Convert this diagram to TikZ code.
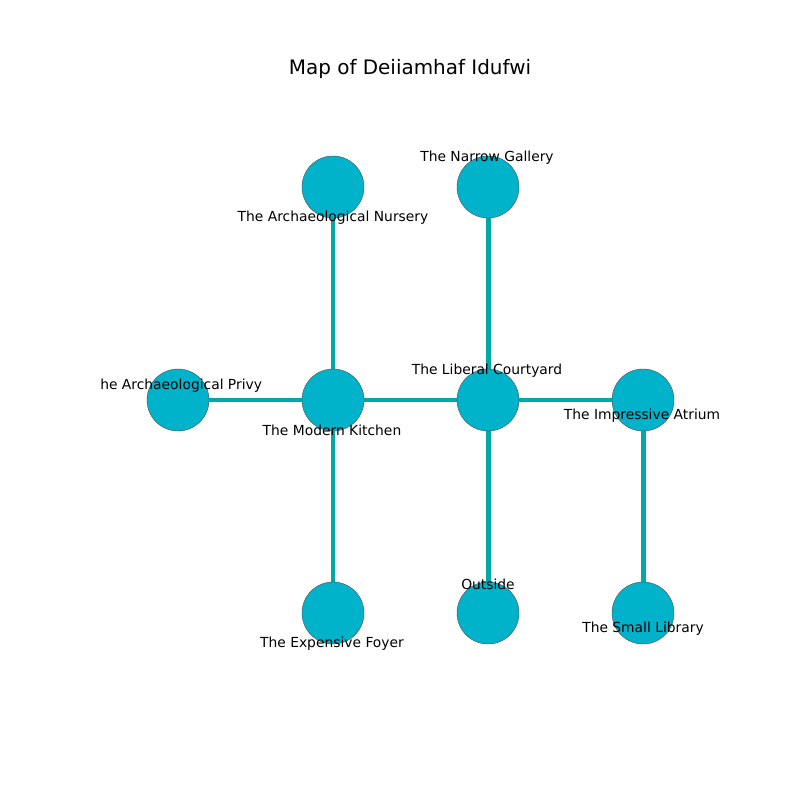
\documentclass[tikz,border=0pt]{standalone}
\usepackage{fontspec}
\setmainfont{DejaVu Sans}
\definecolor{nodefill}{RGB}{0,178,202}
\definecolor{edgecol}{RGB}{0,168,168}
\definecolor{rimcol}{RGB}{80,80,80}
\begin{document}
\begin{tikzpicture}[x=0.01in,y=-0.01in,
  room/.style={circle,fill=nodefill,draw=rimcol,line width=0.3pt,minimum size=0.62in,inner sep=0pt},
  link/.style={edgecol,line width=3.6pt},
  lbl/.style={font=\fontsize{10}{12}\selectfont,inner sep=0pt,text=black},
  ttl/.style={font=\fontsize{14.4}{16}\selectfont,inner sep=0pt}]
\useasboundingbox[fill=white] (0,0) rectangle (800,800);
\coordinate (cnur) at (333,187);
\coordinate (cgal) at (488,187);
\coordinate (cpri) at (178,400);
\coordinate (ckit) at (333,400);
\coordinate (ccou) at (488,400);
\coordinate (catr) at (643,400);
\coordinate (cfoy) at (333,613);
\coordinate (cout) at (488,613);
\coordinate (clib) at (643,613);
\draw[link] (cpri) -- (ckit);
\draw[link] (ckit) -- (ccou);
\draw[link] (ccou) -- (catr);
\draw[link] (cnur) -- (ckit);
\draw[link] (ckit) -- (cfoy);
\draw[link] (cgal) -- (ccou);
\draw[link] (ccou) -- (cout);
\draw[link] (catr) -- (clib);
\node[room] (nur) at (cnur) {};
\node[room] (gal) at (cgal) {};
\node[room] (pri) at (cpri) {};
\node[room] (kit) at (ckit) {};
\node[room] (cou) at (ccou) {};
\node[room] (atr) at (catr) {};
\node[room] (foy) at (cfoy) {};
\node[room] (out) at (cout) {};
\node[room] (lib) at (clib) {};
\node[ttl] (title) at (410,69) {Map of Deiiamhaf Idufwi};
\node[lbl] (lnur) at (333,218) {The Archaeological Nursery};
\node[lbl] (lgal) at (487,158) {The Narrow Gallery};
\node[lbl,anchor=west] (lpri) at (100,386) {he Archaeological Privy};
\node[lbl] (lkit) at (332,430) {The Modern Kitchen};
\node[lbl] (lcou) at (487,371) {The Liberal Courtyard};
\node[lbl] (latr) at (642,416) {The Impressive Atrium};
\node[lbl] (lfoy) at (332,644) {The Expensive Foyer};
\node[lbl] (lout) at (488,584) {Outside};
\node[lbl] (llib) at (643,629) {The Small Library};
\end{tikzpicture}
\end{document}
